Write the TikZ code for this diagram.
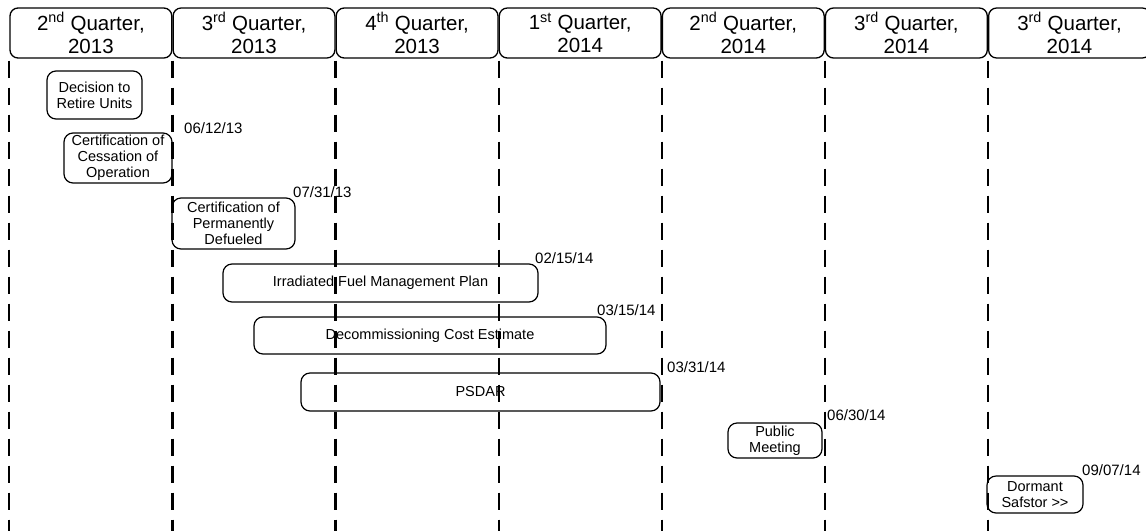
\documentclass[tikz,border=0pt]{standalone}
\usepackage{fontspec}
\setmainfont{Liberation Sans}
\usetikzlibrary{positioning}

\begin{document}
\begin{tikzpicture}[
    x=1pt, y=-1pt,
    qtr/.style={rectangle, rounded corners=8pt, draw, line width=1.3pt,
                minimum width=161.8pt, minimum height=50pt, inner sep=0pt,
                align=center, font=\fontsize{20.5}{23}\selectfont},
    task/.style={rectangle, rounded corners=9pt, draw, line width=1.2pt,
                 align=center, inner sep=0pt, font=\fontsize{14.5}{16}\selectfont},
    date/.style={anchor=west, inner sep=0pt, font=\fontsize{15}{16}\selectfont},
    divider/.style={line width=2.2pt, dash pattern=on 17pt off 10pt},
]
\useasboundingbox (0,0) rectangle (1146,531);

% quarter headers
\node[qtr] (q1) at (90.9,33) {2\textsuperscript{nd} Quarter,\\2013};
\node[qtr, right=0pt of q1] (q2) {3\textsuperscript{rd} Quarter,\\2013};
\node[qtr, right=0pt of q2] (q3) {4\textsuperscript{th} Quarter,\\2013};
\node[qtr, right=0pt of q3] (q4) {1\textsuperscript{st} Quarter,\\2014};
\node[qtr, right=0pt of q4] (q5) {2\textsuperscript{nd} Quarter,\\2014};
\node[qtr, right=0pt of q5] (q6) {3\textsuperscript{rd} Quarter,\\2014};
\node[qtr, right=0pt of q6] (q7) {3\textsuperscript{rd} Quarter,\\2014};

% quarter dividers
\foreach \i in {1,...,7}
    \draw[divider] ([yshift=-2pt]q\i.south west) -- ++(0,470);
\draw[divider] ([yshift=-2pt]q7.south east) -- ++(0,470);

% milestones
\node[task, minimum width=95pt, minimum height=48pt] (retire) at (94.5,95)
    {Decision to\\Retire Units};
\node[task, minimum width=108pt, minimum height=50pt] (cease) at (118,158)
    {Certification of\\Cessation of\\Operation};
\node[task, minimum width=123pt, minimum height=51pt] (defuel) at (233.5,223.5)
    {Certification of\\Permanently\\Defueled};
\node[task, minimum width=315pt, minimum height=38pt] (ifmp) at (380.5,283)
    {Irradiated Fuel Management Plan};
\node[task, minimum width=352pt, minimum height=37pt] (dce) at (430,335.5)
    {Decommissioning Cost Estimate};
\node[task, minimum width=359pt, minimum height=38pt] (psdar) at (480.5,392)
    {PSDAR};
\node[task, minimum width=94pt, minimum height=35pt] (meeting) at (775,440.5)
    {Public\\Meeting};
\node[task, minimum width=96pt, minimum height=37pt] (safstor) at (1035,494.5)
    {Dormant\\Safstor {>}{>}};

% due dates
\node[date] (d1) at (184,128) {06/12/13};
\node[date] (d2) at (293,192) {07/31/13};
\node[date] (d3) at (535,258) {02/15/14};
\node[date] (d4) at (597,310) {03/15/14};
\node[date] (d5) at (667,367) {03/31/14};
\node[date] (d6) at (827,415) {06/30/14};
\node[date] (d7) at (1082,470) {09/07/14};
\end{tikzpicture}
\end{document}
